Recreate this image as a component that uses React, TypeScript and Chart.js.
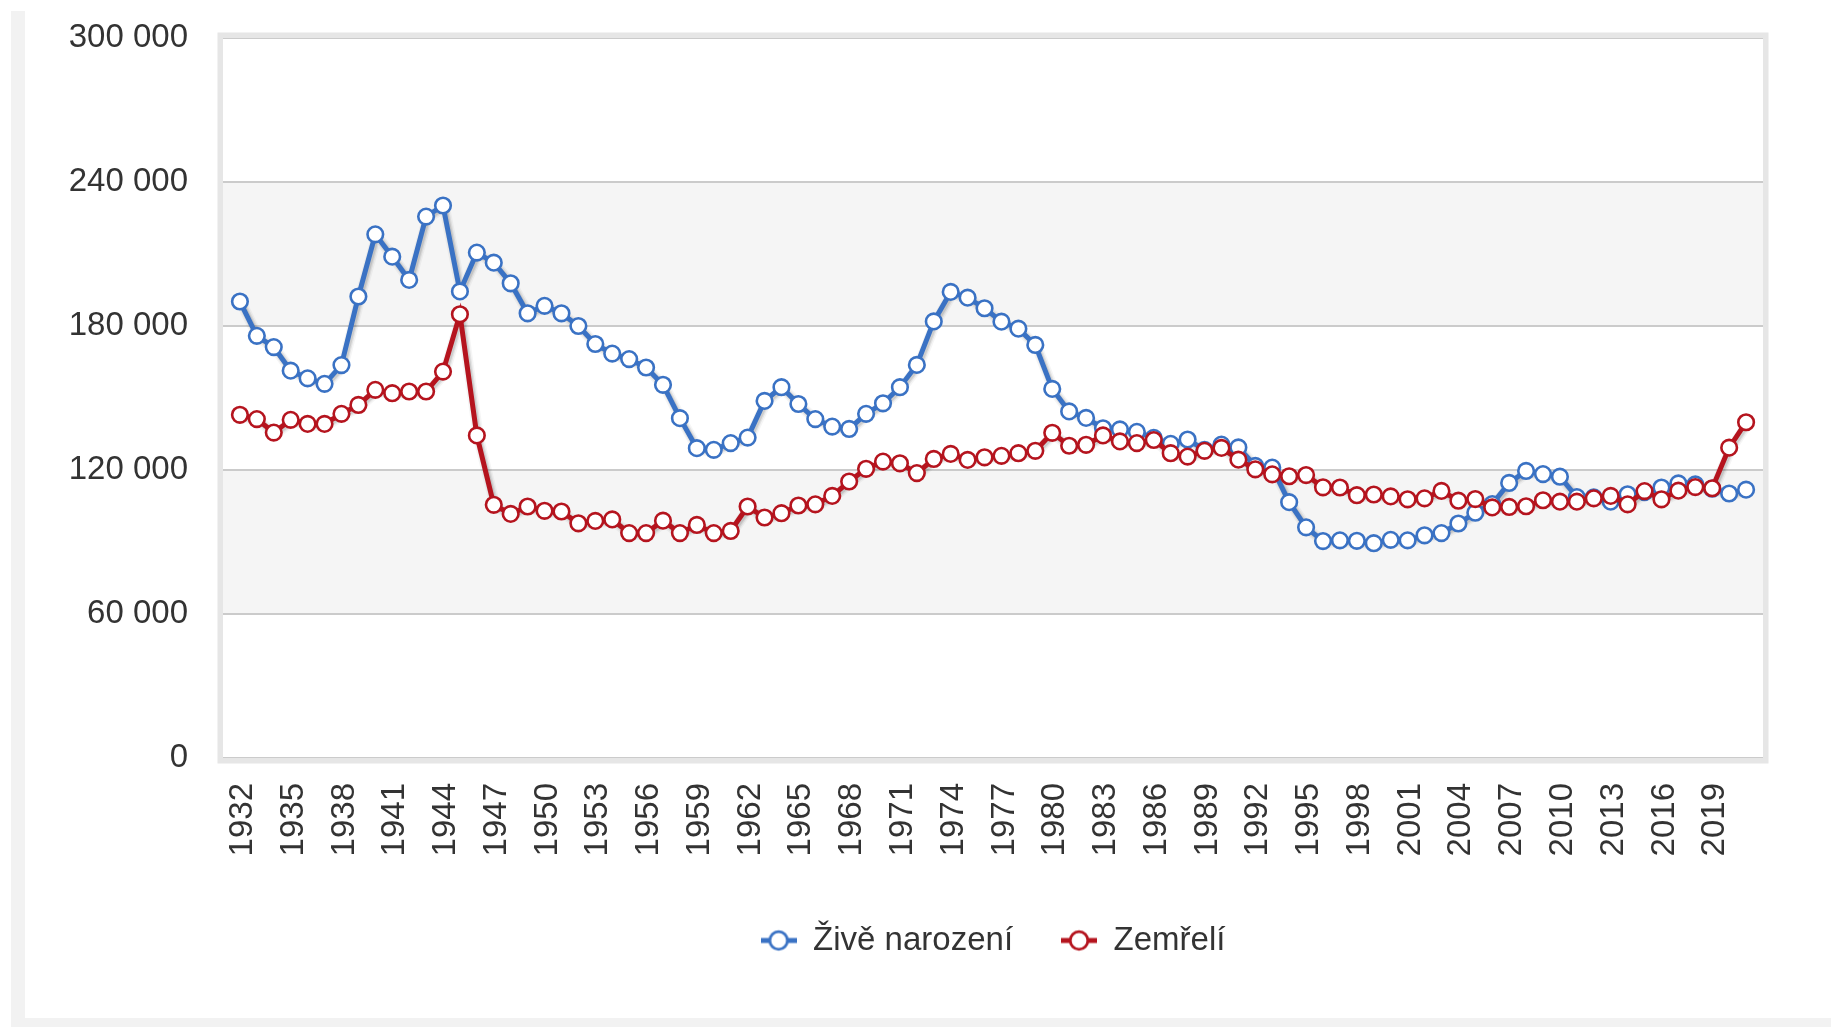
import React, { useEffect, useRef } from "react";
import { Chart, registerables } from "chart.js";

Chart.register(...registerables);

const years = [
  1932, 1933, 1934, 1935, 1936, 1937, 1938, 1939, 1940, 1941,
  1942, 1943, 1944, 1945, 1946, 1947, 1948, 1949, 1950, 1951,
  1952, 1953, 1954, 1955, 1956, 1957, 1958, 1959, 1960, 1961,
  1962, 1963, 1964, 1965, 1966, 1967, 1968, 1969, 1970, 1971,
  1972, 1973, 1974, 1975, 1976, 1977, 1978, 1979, 1980, 1981,
  1982, 1983, 1984, 1985, 1986, 1987, 1988, 1989, 1990, 1991,
  1992, 1993, 1994, 1995, 1996, 1997, 1998, 1999, 2000, 2001,
  2002, 2003, 2004, 2005, 2006, 2007, 2008, 2009, 2010, 2011,
  2012, 2013, 2014, 2015, 2016, 2017, 2018, 2019, 2020, 2021,
];

const births = [
  190200, 175900, 171200, 161400, 158200, 155900, 163700, 192300, 218200, 208900,
  199200, 225600, 230200, 194400, 210600, 206400, 197800, 185300, 188400, 185300,
  180000, 172500, 168500, 166200, 162700, 155500, 141600, 129100, 128400, 131200,
  133500, 148800, 154500, 147500, 141200, 138100, 137100, 143400, 147800, 154500,
  163800, 181900, 194200, 191800, 187400, 181800, 178900, 172100, 153800, 144400,
  141700, 137400, 136900, 135900, 133400, 130900, 132700, 128400, 130600, 129400,
  121700, 121000, 106600, 96100, 90400, 90700, 90500, 89500, 90900, 90700,
  92800, 93700, 97700, 102200, 105800, 114600, 119600, 118300, 117200, 108700,
  108600, 106800, 109900, 110800, 112700, 114400, 114000, 112200, 110200, 111800,
];

const deaths = [
  143000, 141200, 135600, 140900, 139200, 139200, 143400, 147100, 153400, 152000,
  152700, 152700, 161000, 184900, 134400, 105500, 101700, 104800, 103000, 102700,
  97800, 98800, 99400, 93700, 93700, 98900, 93700, 97100, 93700, 94600,
  104800, 100200, 102000, 105200, 105700, 109200, 115200, 120500, 123500, 122800,
  118700, 124600, 126700, 124200, 125300, 125900, 127000, 128000, 135500, 130100,
  130500, 134400, 131900, 131200, 132500, 127000, 125600, 128000, 129200, 124300,
  120300, 118200, 117400, 117900, 112800, 112700, 109500, 109800, 109000, 107800,
  108200, 111300, 107200, 107900, 104400, 104600, 104900, 107400, 106800, 106800,
  108200, 109200, 105700, 111200, 107800, 111400, 112900, 112400, 129300, 139900,
];

const seriesNames = ["Živě narození", "Zemřelí"];
const seriesColors = ["#3a72c4", "#b5141e"];

const xTickYears = [
  1932, 1935, 1938, 1941, 1944, 1947, 1950, 1953, 1956, 1959,
  1962, 1965, 1968, 1971, 1974, 1977, 1980, 1983, 1986, 1989,
  1992, 1995, 1998, 2001, 2004, 2007, 2010, 2013, 2016, 2019,
];
const yTickValues = [0, 60000, 120000, 180000, 240000, 300000];
const bandRanges = [
  [60000, 120000],
  [180000, 240000],
];

const FONT = "'Liberation Sans', Arial, Helvetica, sans-serif";
const TEXT = "#333333";

function fmt(v: number): string {
  return String(Math.round(v)).replace(/\B(?=(\d{3})+(?!\d))/g, " ");
}

function legendIcon(color: string): HTMLCanvasElement {
  const c = document.createElement("canvas");
  c.width = 36;
  c.height = 24;
  const ctx = c.getContext("2d")!;
  ctx.strokeStyle = color;
  ctx.lineWidth = 5;
  ctx.beginPath();
  ctx.moveTo(0, 12);
  ctx.lineTo(36, 12);
  ctx.stroke();
  ctx.beginPath();
  ctx.arc(18, 12, 8.8, 0, Math.PI * 2);
  ctx.fillStyle = "#ffffff";
  ctx.fill();
  ctx.lineWidth = 2.8;
  ctx.stroke();
  return c;
}

const decorPlugin = {
  id: "decor",
  beforeDraw(chart: any) {
    const { ctx, chartArea, scales } = chart;
    const y = scales.y;
    ctx.save();
    ctx.fillStyle = "#f5f5f5";
    for (const [a, b] of bandRanges) {
      const top = y.getPixelForValue(b);
      const bot = y.getPixelForValue(a);
      ctx.fillRect(chartArea.left, top, chartArea.right - chartArea.left, bot - top);
    }
    ctx.restore();
  },
  beforeDatasetsDraw(chart: any) {
    const { ctx, chartArea } = chart;
    ctx.save();
    ctx.strokeStyle = "#e6e6e6";
    ctx.lineWidth = 5.5;
    ctx.strokeRect(
      chartArea.left - 2.75,
      chartArea.top - 2.75,
      chartArea.right - chartArea.left + 5.5,
      chartArea.bottom - chartArea.top + 5.5
    );
    ctx.restore();
  },
  beforeDatasetDraw(chart: any, args: any) {
    const meta = args.meta;
    const pts = meta.data;
    if (!pts || pts.length < 2) return;
    const ctx = chart.ctx;
    ctx.save();
    ctx.lineJoin = "round";
    ctx.lineCap = "round";
    const layers = [
      [11, 0.04],
      [8, 0.07],
      [5.5, 0.1],
    ];
    for (const [w, a] of layers) {
      ctx.strokeStyle = `rgba(0,0,0,${a})`;
      ctx.lineWidth = w;
      ctx.beginPath();
      pts.forEach((p: any, i: number) => {
        if (i === 0) ctx.moveTo(p.x + 1.5, p.y + 1.5);
        else ctx.lineTo(p.x + 1.5, p.y + 1.5);
      });
      ctx.stroke();
    }
    ctx.restore();
  },
};

export default function App() {
  const ref = useRef<HTMLCanvasElement | null>(null);

  useEffect(() => {
    if (!ref.current) return;
    const icons = seriesColors.map((c) => legendIcon(c));
    const makeData = (vals: number[]) => years.map((yr, i) => ({ x: yr, y: vals[i] }));
    const mk = (i: number, vals: number[], order: number) => ({
      label: seriesNames[i],
      data: makeData(vals),
      borderColor: seriesColors[i],
      backgroundColor: seriesColors[i],
      borderWidth: 5,
      pointRadius: 7.8,
      pointBorderWidth: 2.6,
      pointBackgroundColor: "#ffffff",
      pointBorderColor: seriesColors[i],
      tension: 0,
      order,
    });
    const chart = new Chart(ref.current, {
      type: "line",
      data: {
        datasets: [mk(0, births, 2), mk(1, deaths, 1)],
      },
      options: {
        animation: false,
        responsive: false,
        maintainAspectRatio: false,
        layout: { padding: { left: 0, right: 68, top: 38, bottom: 60 } },
        scales: {
          x: {
            type: "linear",
            min: 1931,
            max: 2022,
            grid: { display: false },
            border: { display: false },
            afterBuildTicks: (s: any) => {
              s.ticks = xTickYears.map((v) => ({ value: v }));
            },
            afterFit: (s: any) => {
              s.height = 118;
            },
            ticks: {
              autoSkip: false,
              minRotation: 90,
              maxRotation: 90,
              padding: 17,
              labelOffset: 3,
              color: TEXT,
              font: { family: FONT, size: 33 },
              callback: (v: any) => String(v),
            },
          },
          y: {
            min: 0,
            max: 300000,
            afterBuildTicks: (s: any) => {
              s.ticks = yTickValues.map((v) => ({ value: v }));
            },
            afterFit: (s: any) => {
              s.width = 223;
              s.paddingTop = 0;
              s.paddingBottom = 0;
            },
            grid: { color: "#cbcbcb", lineWidth: 2, drawTicks: false },
            border: { display: false },
            ticks: {
              padding: 35,
              color: TEXT,
              font: { family: FONT, size: 33 },
              callback: (v: any) => fmt(Number(v)),
            },
          },
        },
        plugins: {
          tooltip: { enabled: false },
          legend: {
            position: "bottom",
            fullSize: false,
            labels: {
              usePointStyle: true,
              pointStyleWidth: 36,
              boxHeight: 24,
              padding: 48,
              color: TEXT,
              font: { family: FONT, size: 33 },
              generateLabels: () =>
                seriesNames.map((n, i) => ({
                  text: n,
                  pointStyle: icons[i] as any,
                  fillStyle: "#fff",
                  strokeStyle: seriesColors[i],
                  lineWidth: 0,
                  hidden: false,
                  datasetIndex: i,
                  fontColor: TEXT,
                })),
            },
          },
        },
      },
      plugins: [decorPlugin],
    } as any);
    return () => chart.destroy();
  }, []);

  return (
    <div>
      <div
        style={{
          position: "absolute",
          left: 11,
          top: 11,
          width: 1820,
          height: 1016,
          background: "#f2f2f2",
        }}
      />
      <div
        style={{
          position: "absolute",
          left: 25,
          top: 0,
          width: 1806,
          height: 1018,
          background: "#ffffff",
        }}
      />
      <canvas
        ref={ref}
        width={1831}
        height={1027}
        style={{ position: "absolute", left: 0, top: 0, width: 1831, height: 1027 }}
      />
    </div>
  );
}
